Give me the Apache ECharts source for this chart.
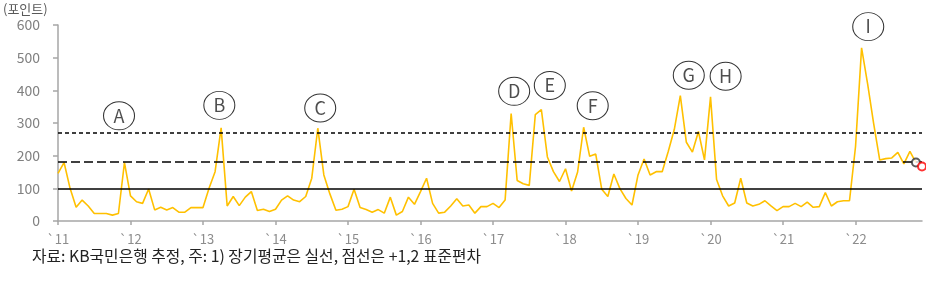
<!DOCTYPE html>
<html><head><meta charset="utf-8">
<script src="https://cdn.jsdelivr.net/npm/echarts@6/dist/echarts.min.js"></script>
<style>html,body{margin:0;padding:0;background:#fff}#c{width:926px;height:287px}</style>
</head><body><div id="c"></div>
<script>
// Monthly index values, Jan 2011 (index 0) .. Nov 2022 (index 142)
var values = [146,179,100,42,64,46,23,23,23,18,23,179,
  77,59,54,98,34,42,34,41,27,27,41,41,
  41,100,151,285,46,75,47,73,90,32,36,29,
  36,64,77,64,59,75,131,284,141,83,33,36,
  44,97,41,35,27,35,24,73,18,29,73,51,
  90,131,54,24,27,46,68,46,49,24,44,44,
  54,41,64,329,124,114,109,326,341,196,151,121,
  160,92,150,287,198,205,97,75,144,99,69,49,
  141,190,141,151,151,213,280,384,241,211,274,187,
  380,127,77,46,55,131,55,46,51,62,46,32,
  44,44,54,44,58,42,44,87,46,59,62,62,
  228,530,420,298,187,191,193,210,175,213,179];
var lastPoint = [142, 179];
var forecastPoint = [143, 167];
var yearTicks = [0,12,24,36,48,60,72,84,96,108,120,132];
var yearLabels = ['`11','`12','`13','`14','`15','`16','`17','`18','`19','`20','`21','`22'];
var longTermMean = 100;
var plus1Sd = 182;
var plus2Sd = 270;
var annotations = [
  {name:'A', x:10.1, y:322},
  {name:'B', x:26.7, y:354},
  {name:'C', x:43.4, y:346},
  {name:'D', x:75.5, y:397},
  {name:'E', x:81.4, y:415},
  {name:'F', x:88.5, y:353},
  {name:'G', x:104.4, y:446},
  {name:'H', x:110.5, y:443},
  {name:'I', x:134.1, y:595}
];
var unitLabel = '(포인트)';
var footnote = '자료: KB국민은행 추정, 주: 1) 장기평균은 실선, 점선은 +1,2 표준편차';

var FONT = '"Noto Sans CJK KR", "Noto Sans", sans-serif';
var chart = echarts.init(document.getElementById('c'), null, {renderer:'canvas'});
var labelMap = {};
yearTicks.forEach(function(t,i){ labelMap[t] = yearLabels[i]; });

chart.setOption({
  animation: false,
  textStyle: {fontFamily: FONT},
  grid: {left: 58, right: 4, top: 25, bottom: 66},
  xAxis: {
    type: 'value', min: 0, max: 143, interval: 12,
    axisLine: {show: true, lineStyle: {color: '#a6a6a6', width: 1.5}},
    axisTick: {show: true, length: 4, lineStyle: {color: '#a6a6a6', width: 1.5}, customValues: yearTicks},
    axisLabel: {color: '#8c8c8c', fontSize: 13, margin: 12, fontFamily: FONT, customValues: yearTicks,
      formatter: function(v){ return labelMap[v] || ''; }},
    splitLine: {show: false}
  },
  yAxis: {
    type: 'value', min: 0, max: 600, interval: 100,
    axisLine: {show: true, lineStyle: {color: '#a6a6a6', width: 1.5}},
    axisTick: {show: true, length: 5, lineStyle: {color: '#a6a6a6', width: 1.5}},
    axisLabel: {color: '#808080', fontSize: 14, margin: 18, align: 'right', fontFamily: FONT},
    splitLine: {show: false}
  },
  graphic: [
    {type: 'text', left: 3, top: 3, style: {text: unitLabel, fontSize: 13, fill: '#595959', fontFamily: FONT}},
    {type: 'text', left: 32, top: 248, style: {text: footnote, fontSize: 15.8, fill: '#222', fontFamily: FONT}}
  ],
  series: [
    {
      type: 'line', data: values.map(function(v,i){ return [i, v]; }),
      symbol: 'none', lineStyle: {color: '#FFC000', width: 1.6}, z: 3,
      markLine: {
        silent: true, symbol: 'none', label: {show: false},
        data: [
          {yAxis: longTermMean, lineStyle: {color: '#000', width: 1.5, type: 'solid'}},
          {yAxis: plus1Sd, lineStyle: {color: '#000', width: 1.5, type: [9, 4]}},
          {yAxis: plus2Sd, lineStyle: {color: '#000', width: 1.5, type: [4, 3]}}
        ]
      }
    },
    {
      type: 'scatter', data: [lastPoint], symbol: 'circle', symbolSize: 8, z: 5,
      itemStyle: {color: '#fff', borderColor: '#333', borderWidth: 2}
    },
    {
      type: 'scatter', data: [forecastPoint], symbol: 'circle', symbolSize: 8, z: 5,
      itemStyle: {color: '#fff', borderColor: '#ff0000', borderWidth: 2}
    },
    {
      type: 'scatter', symbol: 'circle', symbolSize: [31, 28], z: 4,
      data: annotations.map(function(a){ return {name: a.name, value: [a.x, a.y]}; }),
      itemStyle: {color: 'rgba(255,255,255,0)', borderColor: '#000', borderWidth: 1},
      label: {show: true, position: 'inside', formatter: '{b}', color: '#222', fontSize: 18, fontFamily: FONT}
    }
  ]
});
</script>
</body></html>
